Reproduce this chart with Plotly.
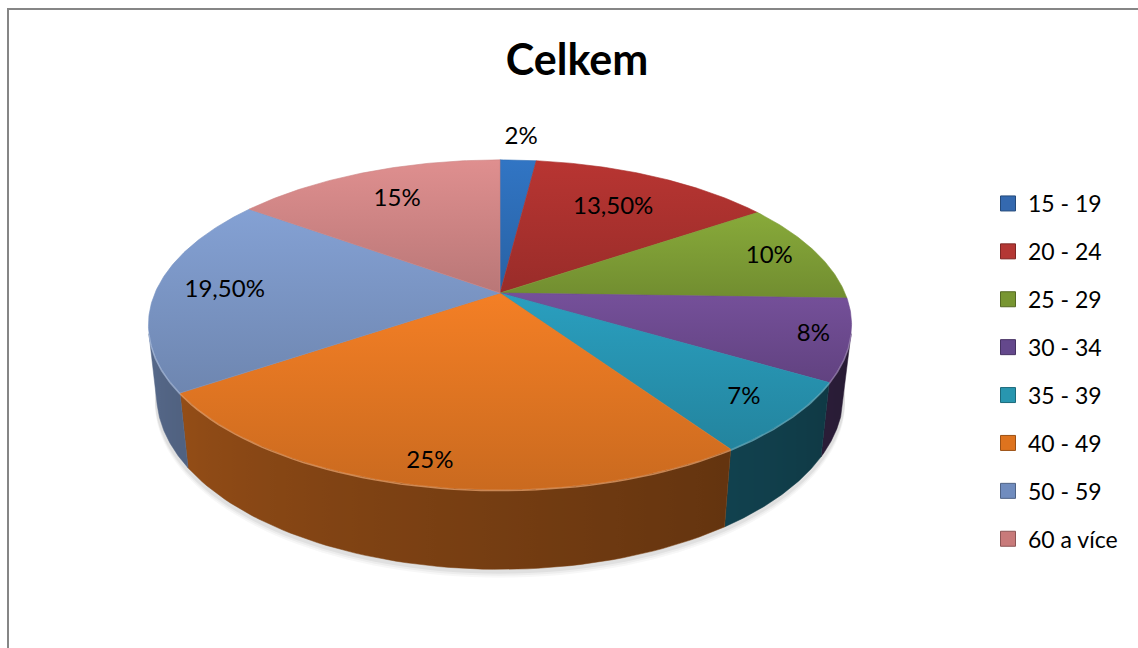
import numpy as np
import plotly.graph_objects as go

# Age groups and their shares (percent)
categories = ["15 - 19", "20 - 24", "25 - 29", "30 - 34", "35 - 39", "40 - 49", "50 - 59", "60 a více"]
shares = [2, 13.5, 10, 8, 7, 25, 19.5, 15]

# Slice colours (top face) and legend swatch colours
top_colors = [(46, 110, 185), (174, 50, 47), (128, 160, 55), (110, 75, 145),
              (40, 150, 180), (230, 120, 35), (125, 152, 200), (210, 135, 135)]
legend_colors = [(52, 105, 175), (180, 55, 52), (120, 150, 50), (100, 72, 140),
                 (40, 150, 175), (222, 115, 30), (112, 140, 190), (200, 122, 122)]

# Relative radius at which each percentage label sits
label_radius = [1.2, 0.7, 0.85, 0.9, 0.86, 0.9, 0.8, 0.74]

# Perspective set-up of the tilted disc (screen pixels)
CX, CY = 500.0, 293.0
SCALE = 345.0
ELEV = np.radians(27.4)
DIST = 4.61
DEPTH = 0.231
FONT = "Lato"


def project(x, y, z):
    s, c = np.sin(ELEV), np.cos(ELEV)
    d = (y * c - z * s + DIST) / DIST
    return CX + SCALE * x / d, CY - SCALE * (y * s + z * c) / d


def shade(rgb, k):
    return "rgb(%d,%d,%d)" % tuple(int(max(0, min(255, round(v * k)))) for v in rgb)


def mix_white(rgb, t):
    return "rgb(%d,%d,%d)" % tuple(int(round(v + (255 - v) * t)) for v in rgb)


def fmt(v):
    if float(v).is_integer():
        return "%d%%" % v
    return ("%.2f" % v).replace(".", ",") + "%"


def wall_k(phi_deg):
    t = np.clip((phi_deg + 180.0) / 180.0, 0, 1)
    return 0.76 - 0.44 * t ** 0.8


total = float(sum(shares))
cum = np.concatenate([[0.0], np.cumsum(shares)]) / total
# angles measured counter-clockwise from +x; slices run clockwise from 12 o'clock
phi_start = 90.0 - 360.0 * cum[:-1]
phi_end = 90.0 - 360.0 * cum[1:]

# visible part of the curved side wall
lim = np.degrees(np.arcsin(1.0 / (DIST * np.cos(ELEV))))
vis_lo, vis_hi = -180.0 + lim, -lim

fig = go.Figure()

# soft shadow under the disc
ring = np.radians(np.linspace(0, 360, 181))
for off, alpha in [(7, 0.03), (5, 0.04), (3, 0.05)]:
    bx, by = project(np.cos(ring) * 1.005, np.sin(ring) * 1.005, -DEPTH)
    fig.add_trace(go.Scatter(x=bx, y=by + off, fill="toself", mode="none",
                             fillcolor="rgba(0,0,0,%.2f)" % alpha,
                             hoverinfo="skip", showlegend=False))

# side walls
for i in range(len(shares)):
    a = max(phi_end[i], vis_lo)
    b = min(phi_start[i], vis_hi)
    if a >= b:
        continue
    ph = np.linspace(a, b, 60)
    r = np.radians(ph)
    tx, ty = project(np.cos(r), np.sin(r), 0.0)
    bx, by = project(np.cos(r), np.sin(r), -DEPTH)
    xs = np.concatenate([tx, bx[::-1], tx[:1]])
    ys = np.concatenate([ty, by[::-1], ty[:1]])
    x0, x1 = tx.min(), tx.max()
    stops = []
    for p, xv in zip(ph, tx):
        stops.append([(xv - x0) / (x1 - x0), shade(top_colors[i], wall_k(p))])
    stops.sort(key=lambda s: s[0])
    stops[0][0], stops[-1][0] = 0.0, 1.0
    fig.add_trace(go.Scatter(
        x=xs, y=ys, fill="toself", mode="lines",
        line=dict(color=shade(top_colors[i], wall_k((a + b) / 2)), width=0.5),
        fillgradient=dict(type="horizontal", colorscale=stops, start=x0, stop=x1),
        hoverinfo="skip", showlegend=False))

# top faces
for i in range(len(shares)):
    ph = np.radians(np.linspace(phi_start[i], phi_end[i], max(8, int(shares[i] * 6))))
    ax, ay = project(np.cos(ph), np.sin(ph), 0.0)
    xs = np.concatenate([[CX], ax, [CX]])
    ys = np.concatenate([[CY], ay, [CY]])
    fig.add_trace(go.Scatter(
        x=xs, y=ys, fill="toself", mode="lines",
        line=dict(color=shade(top_colors[i], 0.97), width=0.6),
        fillgradient=dict(type="vertical",
                          colorscale=[[0, shade(top_colors[i], 1.06)],
                                      [1, shade(top_colors[i], 0.88)]],
                          start=ys.min(), stop=ys.max()),
        hoverinfo="skip", showlegend=False))

# light rim along the front edge of the top face
for i in range(len(shares)):
    a = max(phi_end[i], vis_lo)
    b = min(phi_start[i], vis_hi)
    if a >= b:
        continue
    r = np.radians(np.linspace(a, b, 50))
    tx, ty = project(np.cos(r), np.sin(r), 0.0)
    fig.add_trace(go.Scatter(x=tx, y=ty + 1, mode="lines",
                             line=dict(color=mix_white(top_colors[i], 0.35), width=1.5),
                             opacity=0.7, hoverinfo="skip", showlegend=False))

# percentage labels
lx, ly = [], []
for i in range(len(shares)):
    mid = np.radians((phi_start[i] + phi_end[i]) / 2)
    px, py = project(label_radius[i] * np.cos(mid), label_radius[i] * np.sin(mid), 0.0)
    lx.append(px)
    ly.append(py)
fig.add_trace(go.Scatter(x=lx, y=ly, mode="text", text=[fmt(v) for v in shares],
                         textfont=dict(family=FONT, size=24, color="#000000"),
                         hoverinfo="skip", showlegend=False))

# legend entries
for i, cat in enumerate(categories):
    fig.add_trace(go.Scatter(
        x=[None], y=[None], mode="markers", name=cat, legendgroup=cat,
        marker=dict(symbol="square", size=15, color=shade(legend_colors[i], 1.0),
                    line=dict(color=shade(legend_colors[i], 0.7), width=1))))

fig.update_layout(
    width=1138, height=648,
    margin=dict(l=0, r=0, t=0, b=0),
    paper_bgcolor="#ffffff", plot_bgcolor="#ffffff",
    xaxis=dict(range=[0, 1138], visible=False, fixedrange=True),
    yaxis=dict(range=[648, 0], visible=False, fixedrange=True),
    title=dict(text="Celkem", x=577 / 1138, xanchor="center", y=1 - 60 / 648, yanchor="middle",
               font=dict(family=FONT, size=43, color="#000000", weight="bold")),
    legend=dict(x=(1008 - 20) / 1138, xanchor="left", y=1 - 182 / 648, yanchor="top",
                font=dict(family=FONT, size=23, color="#000000"),
                tracegroupgap=15, bgcolor="rgba(0,0,0,0)", itemclick=False),
    shapes=[dict(type="rect", xref="x", yref="y", x0=8, y0=9, x1=1150, y1=660,
                 line=dict(color="#868686", width=2), fillcolor="rgba(0,0,0,0)")],
    showlegend=True,
)

fig.write_html("out.html")
